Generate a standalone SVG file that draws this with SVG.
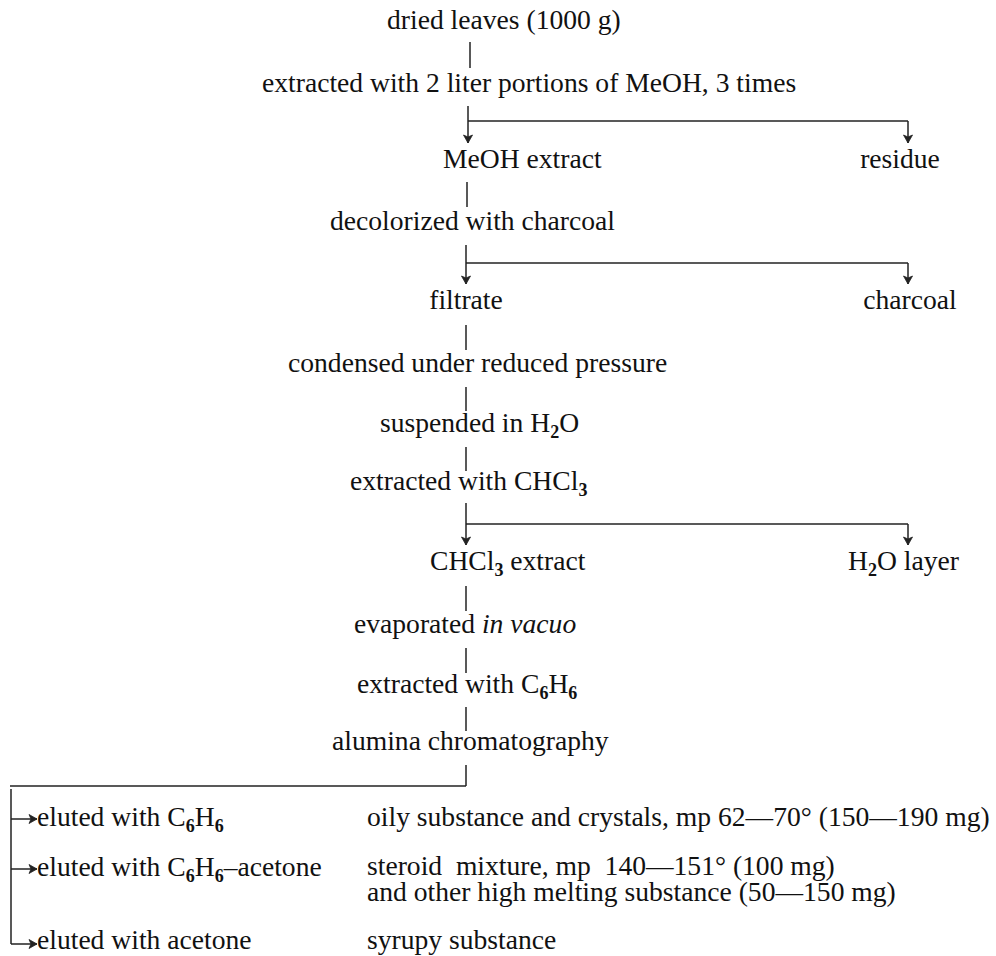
<svg xmlns="http://www.w3.org/2000/svg" width="996" height="956" viewBox="0 0 996 956">
<style>
text{font-family:"Liberation Serif","DejaVu Serif",serif;font-size:27.6px;fill:#111}
.m{text-anchor:middle}
.s{font-size:18px;font-weight:bold}
.c line{stroke:#222;stroke-width:1.5;fill:none}
</style>
<defs>
<marker id="ad" viewBox="-10 -6 12 12" markerWidth="12" markerHeight="12" refX="0" refY="0" orient="auto" markerUnits="userSpaceOnUse">
<path d="M-8,-4.5 L0,0 L-8,4.5 L-6,0 Z" fill="#222" stroke="#222" stroke-width="0.8"/>
</marker>
</defs>
<rect width="996" height="956" fill="#fff"/>
<g class="c" id="connectors">
<line x1="470" y1="42" x2="470" y2="68"/>
<line x1="468" y1="106" x2="468" y2="143" marker-end="url(#ad)"/>
<line x1="468" y1="121" x2="908" y2="121"/>
<line x1="908" y1="121" x2="908" y2="143" marker-end="url(#ad)"/>
<line x1="467" y1="182" x2="467" y2="207"/>
<line x1="466" y1="245" x2="466" y2="284" marker-end="url(#ad)"/>
<line x1="466" y1="263" x2="908" y2="263"/>
<line x1="908" y1="263" x2="908" y2="284" marker-end="url(#ad)"/>
<line x1="466" y1="325" x2="466" y2="350"/>
<line x1="466" y1="387" x2="466" y2="411"/>
<line x1="466" y1="447" x2="466" y2="471"/>
<line x1="466" y1="503" x2="466" y2="545" marker-end="url(#ad)"/>
<line x1="466" y1="524" x2="908" y2="524"/>
<line x1="908" y1="524" x2="908" y2="545" marker-end="url(#ad)"/>
<line x1="466" y1="586" x2="466" y2="611"/>
<line x1="466" y1="648" x2="466" y2="673"/>
<line x1="466" y1="707" x2="466" y2="731"/>
<line x1="466" y1="765" x2="466" y2="786"/>
<line x1="10" y1="786" x2="466" y2="786"/>
<line x1="11" y1="789" x2="11" y2="944"/>
<line x1="11" y1="819" x2="37" y2="819" marker-end="url(#ad)"/>
<line x1="11" y1="869" x2="37" y2="869" marker-end="url(#ad)"/>
<line x1="11" y1="944" x2="37" y2="944" marker-end="url(#ad)"/>
</g>
<g id="n1"><text x="387" y="29">dried leaves (1000 g)</text></g>
<g id="n2"><text x="262" y="92">extracted with 2 liter portions of MeOH, 3 times</text></g>
<g id="n3"><text x="443" y="168">MeOH extract</text></g>
<g id="n4"><text class="m" x="900" y="168">residue</text></g>
<g id="n5"><text x="330" y="230">decolorized with charcoal</text></g>
<g id="n6"><text class="m" x="466" y="309">filtrate</text></g>
<g id="n7"><text class="m" x="910" y="309">charcoal</text></g>
<g id="n8"><text x="288" y="372">condensed under reduced pressure</text></g>
<g id="n9"><text x="380" y="432">suspended in H<tspan class="s" dy="6">2</tspan><tspan dy="-6">O</tspan></text></g>
<g id="n10"><text x="350" y="490">extracted with CHCl<tspan class="s" dy="6">3</tspan></text></g>
<g id="n11"><text x="430" y="570">CHCl<tspan class="s" dy="6">3</tspan><tspan dy="-6"> extract</tspan></text></g>
<g id="n12"><text x="848" y="570">H<tspan class="s" dy="6">2</tspan><tspan dy="-6">O layer</tspan></text></g>
<g id="n13"><text x="354" y="633">evaporated <tspan font-style="italic">in vacuo</tspan></text></g>
<g id="n14"><text x="357" y="693">extracted with C<tspan class="s" dy="6">6</tspan><tspan dy="-6">H</tspan><tspan class="s" dy="6">6</tspan></text></g>
<g id="n15"><text x="332" y="750">alumina chromatography</text></g>
<g id="n16"><text x="37" y="826">eluted with C<tspan class="s" dy="6">6</tspan><tspan dy="-6">H</tspan><tspan class="s" dy="6">6</tspan></text></g>
<g id="n17"><text x="367" y="826">oily substance and crystals, mp 62—70° (150—190 mg)</text></g>
<g id="n18"><text x="37" y="876">eluted with C<tspan class="s" dy="6">6</tspan><tspan dy="-6">H</tspan><tspan class="s" dy="6">6</tspan><tspan dy="-6">–acetone</tspan></text></g>
<g id="n19"><text x="367" y="875">steroid&#160; mixture, mp&#160; 140—151° (100 mg)<tspan x="367" dy="26">and other high melting substance (50—150 mg)</tspan></text></g>
<g id="n20"><text x="37" y="949">eluted with acetone</text></g>
<g id="n21"><text x="367" y="949">syrupy substance</text></g>
</svg>
